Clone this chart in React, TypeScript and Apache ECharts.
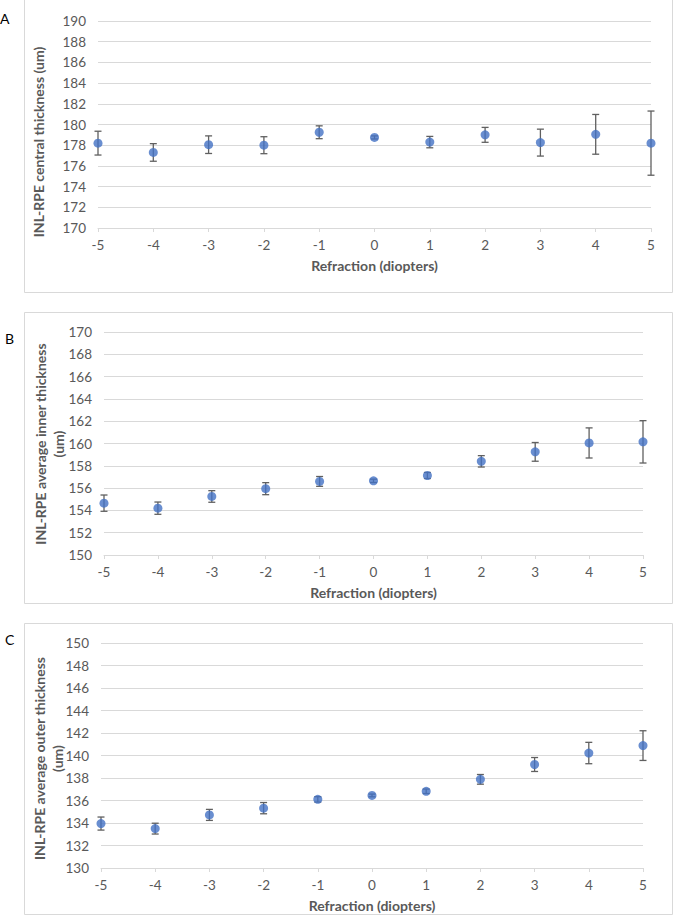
import React, { useEffect, useRef } from "react";
import * as echarts from "echarts";

const refraction = [-5, -4, -3, -2, -1, 0, 1, 2, 3, 4, 5];

const centralMean = [178.2, 177.3, 178.05, 178.0, 179.25, 178.75, 178.3, 179.0, 178.25, 179.05, 178.2];
const centralErr = [1.15, 0.85, 0.85, 0.82, 0.62, 0.15, 0.55, 0.72, 1.3, 1.92, 3.1];

const innerMean = [154.65, 154.2, 155.25, 155.95, 156.6, 156.65, 157.13, 158.4, 159.25, 160.05, 160.15];
const innerErr = [0.73, 0.55, 0.52, 0.54, 0.44, 0.15, 0.27, 0.51, 0.84, 1.35, 1.9];

const outerMean = [133.95, 133.5, 134.72, 135.32, 136.1, 136.45, 136.82, 137.88, 139.2, 140.22, 140.88];
const outerErr = [0.58, 0.48, 0.49, 0.5, 0.24, 0.12, 0.2, 0.43, 0.62, 0.95, 1.32];

const panelLabels = ["A", "B", "C"];
const yTitles = [
  "INL-RPE central thickness (um)",
  "INL-RPE average inner thickness\n(um)",
  "INL-RPE average outer thickness\n(um)",
];
const yMins = [170, 150, 130];
const yMaxs = [190, 170, 150];
const xTitle = "Refraction (diopters)";

const FONT = "Lato";
const TEXT = "#595959";
const GRID = "#d9d9d9";
const DOT = "#4472C4";
const BAR = "#606060";

export default function App() {
  const ref = useRef<HTMLDivElement>(null);

  useEffect(() => {
    if (!ref.current) return;
    const chart = echarts.init(ref.current, null, { renderer: "svg" });

    const means = [centralMean, innerMean, outerMean];
    const errs = [centralErr, innerErr, outerErr];

    const grids = [
      { left: 98, top: 21, width: 553, height: 207 },
      { left: 104, top: 332, width: 539, height: 223 },
      { left: 101, top: 643, width: 542, height: 225 },
    ];

    const xAxes = grids.map((_, i) => ({
      type: "value",
      gridIndex: i,
      min: -5,
      max: 5,
      interval: 1,
      name: xTitle,
      nameLocation: "middle",
      nameGap: 30,
      nameTextStyle: { color: TEXT, fontFamily: FONT, fontWeight: "bold", fontSize: 14 },
      axisLine: { show: true, lineStyle: { color: GRID, width: 1 } },
      axisTick: { show: true, length: 4, lineStyle: { color: GRID } },
      axisLabel: { color: TEXT, fontFamily: FONT, fontSize: 13.5, margin: 10 },
      splitLine: { show: false },
    }));

    const yAxes = grids.map((_, i) => ({
      type: "value",
      gridIndex: i,
      min: yMins[i],
      max: yMaxs[i],
      interval: 2,
      axisLine: { show: false },
      axisTick: { show: false },
      axisLabel: { color: TEXT, fontFamily: FONT, fontSize: 13.5, margin: 12 },
      splitLine: { show: true, lineStyle: { color: GRID, width: 1 } },
    }));

    const series: any[] = [];
    for (let i = 0; i < 3; i++) {
      series.push({
        type: "custom",
        xAxisIndex: i,
        yAxisIndex: i,
        z: 2,
        encode: { x: 0, y: [1, 2] },
        data: refraction.map((x, k) => [x, means[i][k] - errs[i][k], means[i][k] + errs[i][k]]),
        renderItem: (params: any, api: any) => {
          const x = api.value(0);
          const lo = api.coord([x, api.value(1)]);
          const hi = api.coord([x, api.value(2)]);
          const w = 3.5;
          const style = { stroke: BAR, lineWidth: 1.3 };
          return {
            type: "group",
            children: [
              { type: "line", shape: { x1: hi[0], y1: hi[1], x2: lo[0], y2: lo[1] }, style },
              { type: "line", shape: { x1: hi[0] - w, y1: hi[1], x2: hi[0] + w, y2: hi[1] }, style },
              { type: "line", shape: { x1: lo[0] - w, y1: lo[1], x2: lo[0] + w, y2: lo[1] }, style },
            ],
          };
        },
      });
      series.push({
        type: "scatter",
        xAxisIndex: i,
        yAxisIndex: i,
        z: 3,
        symbol: "circle",
        symbolSize: 9,
        itemStyle: { color: DOT },
        data: refraction.map((x, k) => [x, means[i][k]]),
      });
    }

    const boxes = [
      { y: -1, h: 293 },
      { y: 312, h: 291 },
      { y: 623, h: 291 },
    ];
    const labelPos = [
      { x: 0, y: 18 },
      { x: 5, y: 338 },
      { x: 5, y: 639 },
    ];
    const yTitlePos = [
      { x: 38, y: 142 },
      { x: 49, y: 444 },
      { x: 48.5, y: 758.5 },
    ];

    const graphic: any[] = [];
    boxes.forEach((b) => {
      graphic.push({
        type: "rect",
        z: -10,
        shape: { x: 24.5, y: b.y + 0.5, width: 648, height: b.h },
        style: { fill: "#fff", stroke: GRID, lineWidth: 1 },
        silent: true,
      });
    });
    panelLabels.forEach((t, i) => {
      graphic.push({
        type: "text",
        x: labelPos[i].x,
        y: labelPos[i].y,
        style: { text: t, fill: "#000", font: `14px ${FONT}`, textVerticalAlign: "middle" },
      });
    });
    yTitles.forEach((t, i) => {
      graphic.push({
        type: "text",
        x: yTitlePos[i].x,
        y: yTitlePos[i].y,
        rotation: Math.PI / 2,
        style: {
          text: t,
          fill: TEXT,
          fontFamily: FONT,
          fontWeight: "bold",
          fontSize: 14,
          lineHeight: 18,
          align: "center",
          verticalAlign: "middle",
        },
      });
    });

    chart.setOption({
      animation: false,
      backgroundColor: "#fff",
      grid: grids,
      xAxis: xAxes,
      yAxis: yAxes,
      series,
      graphic,
    });

    return () => chart.dispose();
  }, []);

  return (
    <div
      ref={ref}
      style={{ position: "fixed", left: 0, top: 0, width: 675, height: 915, background: "#fff" }}
    />
  );
}
